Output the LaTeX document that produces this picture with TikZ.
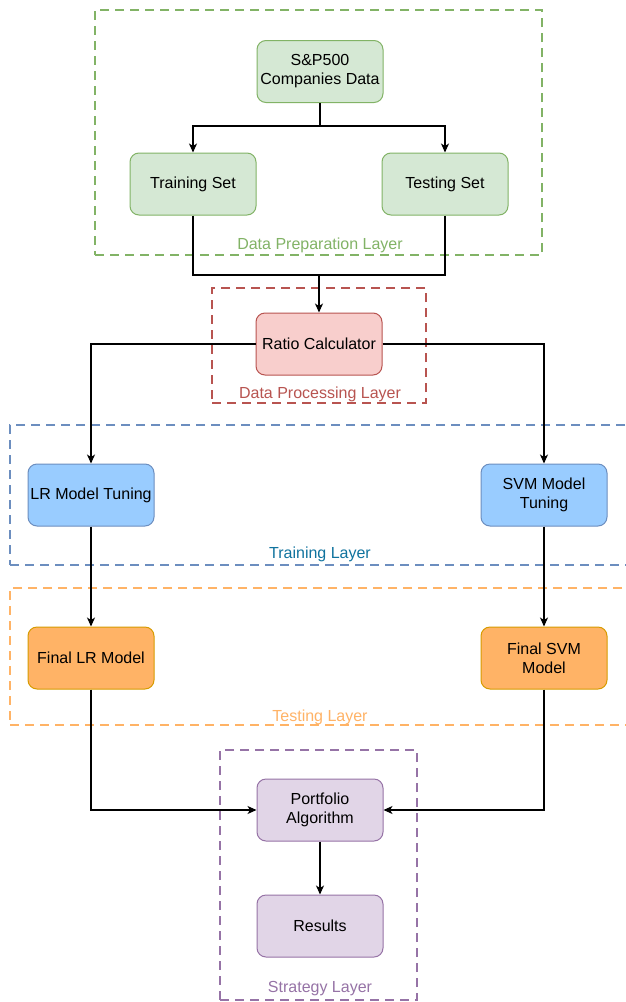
\documentclass[tikz,border=0pt]{standalone}
\usepackage{fontspec}
\setmainfont{Liberation Sans}
\usepackage{xcolor}
\usepackage{tikz}
\usetikzlibrary{positioning,arrows.meta,calc}
\definecolor{prepfill}{HTML}{D5E8D4}
\definecolor{prepline}{HTML}{82B366}
\definecolor{procfill}{HTML}{F8CECC}
\definecolor{procline}{HTML}{B85450}
\definecolor{trainfill}{HTML}{99CCFF}
\definecolor{trainline}{HTML}{6C8EBF}
\definecolor{traintext}{HTML}{10739E}
\definecolor{testfill}{HTML}{FFB366}
\definecolor{testline}{HTML}{D79B00}
\definecolor{stratfill}{HTML}{E1D5E7}
\definecolor{stratline}{HTML}{9673A6}

\begin{document}
\begin{tikzpicture}[
    x=1pt,y=-1pt,
    font=\fontsize{16}{19}\selectfont,
    block/.style={rectangle,draw,line width=1pt,minimum width=126pt,minimum height=62pt,
                  inner sep=1pt,align=center,rounded corners=9pt},
    layer/.style={rectangle,line width=2pt,dash pattern=on 9pt off 6pt,inner sep=0pt},
    arrow/.style={-{Stealth[length=9pt,width=8pt,inset=2.5pt]},line width=1.2pt},
    link/.style={line width=1.2pt}
]
\useasboundingbox[fill=white] (0,0) rectangle (625,1002);

% layers
\node[layer,draw=prepline,minimum width=447pt,minimum height=245pt] (prep) at (318.5,132.5) {};
\node[layer,draw=procline,minimum width=214pt,minimum height=115pt] (proc) at (319,345.5) {};
\node[layer,draw=trainline,minimum width=635pt,minimum height=140pt] (train) at (327.5,495) {};
\node[layer,draw=testfill,minimum width=635pt,minimum height=137pt] (test) at (327.5,656.5) {};
\node[layer,draw=stratline,minimum width=197pt,minimum height=250pt] (strat) at (318.5,875) {};

\node[text=prepline]  (preplbl)  at (320,245) {Data Preparation Layer};
\node[text=procline]  (proclbl)  at (320,394) {Data Processing Layer};
\node[text=traintext] (trainlbl) at (320,554) {Training Layer};
\node[text=testfill]  (testlbl)  at (320,717) {Testing Layer};
\node[text=stratline] (stratlbl) at (320,989) {Strategy Layer};

% blocks
\node[block,fill=prepfill,draw=prepline]   (spdata)    at (320,71.5) {S\&P500\\Companies Data};
\node[block,fill=prepfill,draw=prepline]   (trainset)  at (193,184) {Training Set};
\node[block,fill=prepfill,draw=prepline]   (testset)   at (445,184) {Testing Set};
\node[block,fill=procfill,draw=procline]   (ratio)     at (319,344) {Ratio Calculator};
\node[block,fill=trainfill,draw=trainline] (lrtune)    at (91,495) {LR Model Tuning};
\node[block,fill=trainfill,draw=trainline] (svmtune)   at (544,495) {SVM Model\\Tuning};
\node[block,fill=testfill,draw=testline]   (finallr)   at (91,658) {Final LR Model};
\node[block,fill=testfill,draw=testline]   (finalsvm)  at (544,658) {Final SVM\\Model};
\node[block,fill=stratfill,draw=stratline] (portfolio) at (320,810) {Portfolio\\Algorithm};
\node[block,fill=stratfill,draw=stratline] (results)   at (320,926) {Results};

\coordinate (split) at (320,126);
\coordinate (merge) at (319,275);

\draw[link] (spdata) -- (split);
\draw[arrow] (split) -| (trainset);
\draw[arrow] (split) -| (testset);
\draw[link] (trainset) |- (merge);
\draw[link] (testset) |- (merge);
\draw[arrow] (merge) -- (ratio);
\draw[arrow] (ratio) -| (lrtune);
\draw[arrow] (ratio) -| (svmtune);
\draw[arrow] (lrtune) -- (finallr);
\draw[arrow] (svmtune) -- (finalsvm);
\draw[arrow] (finallr) |- (portfolio);
\draw[arrow] (finalsvm) |- (portfolio);
\draw[arrow] (portfolio) -- (results);
\end{tikzpicture}
\end{document}
